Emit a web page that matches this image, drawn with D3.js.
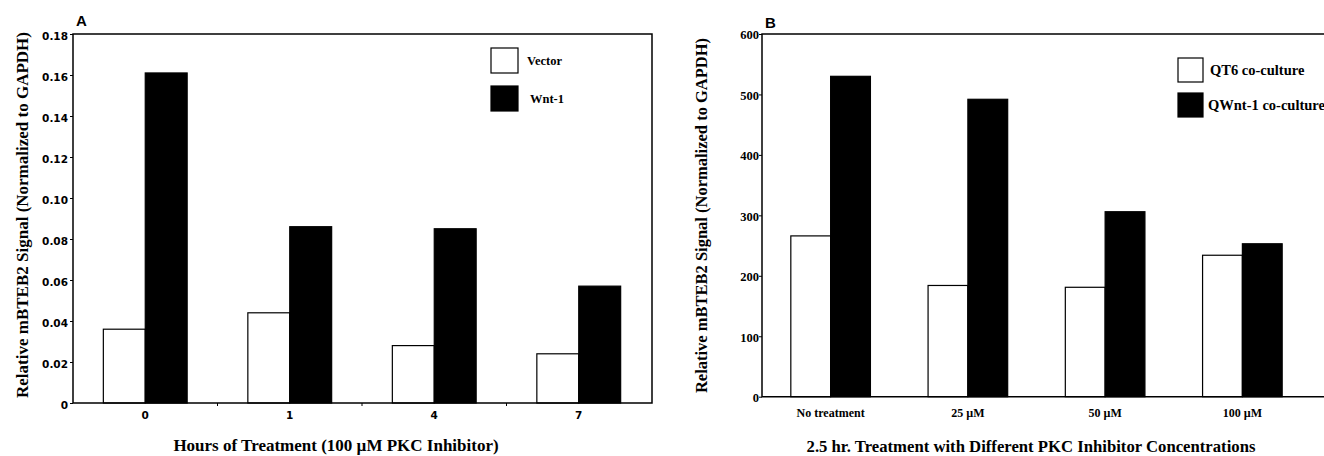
<!DOCTYPE html>
<html>
<head>
<meta charset="utf-8">
<script src="https://cdn.jsdelivr.net/npm/d3@7"></script>
<style>
  body { margin: 0; background: #fff; }
  svg { display: block; }
  .serif { font-family: "Liberation Serif", "Times New Roman", serif; font-weight: bold; }
  .sans { font-family: "DejaVu Sans", sans-serif; font-weight: bold; }
</style>
</head>
<body>
<svg id="chart" width="1324" height="456"></svg>
<script>
// Panel A: hours of treatment with 100 uM PKC inhibitor
const hours = ['0', '1', '4', '7']
const vectorSignal = [0.036, 0.044, 0.028, 0.024]
const wntSignal = [0.161, 0.086, 0.085, 0.057]
const signalTicksA = [0, 0.02, 0.04, 0.06, 0.08, 0.10, 0.12, 0.14, 0.16, 0.18]
const seriesA = ['Vector', 'Wnt-1']

// Panel B: 2.5 hr treatment, different inhibitor concentrations
const concentrations = ['No treatment', '25 µM', '50 µM', '100 µM']
const qt6Signal = [266, 184, 181, 234]
const qwntSignal = [530, 492, 306, 253]
const signalTicksB = [0, 100, 200, 300, 400, 500, 600]
const seriesB = ['QT6 co-culture', 'QWnt-1 co-culture']

const Y_TITLE = 'Relative mBTEB2 Signal (Normalized to GAPDH)'
const BAR_PADDING = 0.42
const AXIS_WIDTH = 1.5

const svg = d3.select('#chart')

function drawPanel(p) {
    const g = svg.append('g')

    const x0 = d3.scaleBand()
        .domain(p.categories)
        .range([p.left, p.right])
        .paddingInner(BAR_PADDING)
        .paddingOuter(BAR_PADDING / 2)
    const x1 = d3.scaleBand()
        .domain(p.series)
        .range([0, x0.bandwidth()])
    const y = d3.scaleLinear()
        .domain([0, p.yMax])
        .range([p.bottom, p.top])

    // Bars, one group per category
    const rows = p.categories.map((c, i) => ({
        cat: c,
        values: p.series.map((s, j) => ({ key: s, value: p.values[j][i], fill: j === 0 ? '#fff' : '#000' }))
    }))
    g.selectAll('.cat')
        .data(rows)
        .enter()
        .append('g')
        .attr('transform', d => `translate(${x0(d.cat)},0)`)
        .selectAll('rect')
        .data(d => d.values)
        .enter()
        .append('rect')
        .attr('x', d => x1(d.key))
        .attr('width', x1.bandwidth())
        .attr('y', d => y(d.value))
        .attr('height', d => y(0) - y(d.value))
        .attr('fill', d => d.fill)
        .attr('stroke', '#000')
        .attr('stroke-width', 1.2)

    // Frame round the plot
    g.append('path')
        .attr('d', `M${p.frameRight},${y(0)}H${p.left}V${p.top}H${p.frameRight}` + (p.closed ? 'Z' : ''))
        .attr('fill', 'none')
        .attr('stroke', '#000')
        .attr('stroke-width', AXIS_WIDTH)

    // Y axis
    const yAxis = g.append('g')
        .attr('transform', `translate(${p.left},0)`)
        .attr('class', p.tickClass)
        .call(d3.axisLeft(y).tickValues(p.ticks).tickSize(3).tickPadding(p.tickPadding).tickFormat(p.format))
    yAxis.select('.domain').remove()
    yAxis.selectAll('text')
        .attr('font-size', p.tickSize)
        .attr('dy', p.tickDy)
        .attr('fill', '#000')
        .attr('font-family', null)

    // X axis labels
    const xAxis = g.append('g')
        .attr('transform', `translate(0,${y(0)})`)
        .attr('class', p.xTickClass)
        .call(d3.axisBottom(x0).tickSize(0).tickPadding(p.xTickPadding))
    xAxis.select('.domain').remove()
    xAxis.selectAll('text')
        .attr('font-size', p.xTickSize)
        .attr('fill', '#000')
        .attr('font-family', null)

    // Small marks between categories
    if (p.boundaryTicks) {
        const gap = x0.step() * x0.paddingInner() / 2
        g.selectAll('.bound')
            .data(p.categories.slice(1))
            .enter()
            .append('line')
            .attr('x1', d => x0(d) - gap)
            .attr('x2', d => x0(d) - gap)
            .attr('y1', y(0))
            .attr('y2', y(0) + 3)
            .attr('stroke', '#000')
            .attr('stroke-width', 1)
    }

    // Titles
    g.append('text')
        .attr('class', 'serif')
        .attr('transform', `translate(${p.yTitleX},${p.yTitleY}) rotate(-90)`)
        .attr('text-anchor', 'middle')
        .attr('font-size', p.yTitleSize)
        .text(Y_TITLE)
    g.append('text')
        .attr('class', 'serif')
        .attr('x', p.xTitleX)
        .attr('y', p.xTitleY)
        .attr('text-anchor', 'middle')
        .attr('font-size', p.xTitleSize)
        .text(p.xTitle)
    g.append('text')
        .attr('x', p.left + 3)
        .attr('y', p.letterY)
        .attr('font-family', 'Liberation Sans, Arial, sans-serif')
        .attr('font-weight', 'bold')
        .attr('font-size', 15)
        .text(p.letter)

    // Legend
    const leg = g.selectAll('.leg')
        .data(p.series)
        .enter()
        .append('g')
        .attr('transform', (d, i) => `translate(${p.legX},${p.legY + i * p.legStep})`)
    leg.append('rect')
        .attr('width', p.legBox[0])
        .attr('height', p.legBox[1])
        .attr('fill', (d, i) => i === 0 ? '#fff' : '#000')
        .attr('stroke', '#000')
        .attr('stroke-width', 1.2)
    leg.append('text')
        .attr('class', 'serif')
        .attr('x', (d, i) => p.legBox[0] + p.legTextDx[i])
        .attr('y', p.legBox[1] / 2)
        .attr('dy', '0.35em')
        .attr('font-size', p.legSize)
        .text(d => d)
}

drawPanel({
    letter: 'A', letterY: 26,
    categories: hours, series: seriesA, values: [vectorSignal, wntSignal],
    ticks: signalTicksA, yMax: 0.18, format: d => d === 0 ? '0' : d.toFixed(2),
    left: 73, right: 651, frameRight: 652, top: 34, bottom: 403, closed: true,
    tickClass: 'sans', tickSize: 10.5, tickPadding: 2, tickDy: '0.55em',
    xTickClass: 'sans', xTickSize: 10.5, xTickPadding: 9,
    boundaryTicks: true,
    yTitleX: 28, yTitleY: 215, yTitleSize: 17,
    xTitle: 'Hours of Treatment (100 µM PKC Inhibitor)', xTitleX: 336, xTitleY: 451, xTitleSize: 17,
    legX: 491, legY: 48, legStep: 38, legBox: [27, 25], legTextDx: [9, 12], legSize: 12.5
})

drawPanel({
    letter: 'B', letterY: 27.5,
    categories: concentrations, series: seriesB, values: [qt6Signal, qwntSignal],
    ticks: signalTicksB, yMax: 600, format: d3.format('d'),
    left: 762, right: 1311, frameRight: 1340, top: 34, bottom: 396.7, closed: false,
    tickClass: 'serif', tickSize: 12.5, tickPadding: 0, tickDy: '0.38em',
    xTickClass: 'serif', xTickSize: 12, xTickPadding: 12,
    boundaryTicks: false,
    yTitleX: 707, yTitleY: 215.5, yTitleSize: 16.5,
    xTitle: '2.5 hr. Treatment with Different PKC Inhibitor Concentrations', xTitleX: 1031, xTitleY: 452, xTitleSize: 16.7,
    legX: 1178, legY: 58, legStep: 35, legBox: [25, 24], legTextDx: [7, 5], legSize: 14.5
})
</script>
</body>
</html>
